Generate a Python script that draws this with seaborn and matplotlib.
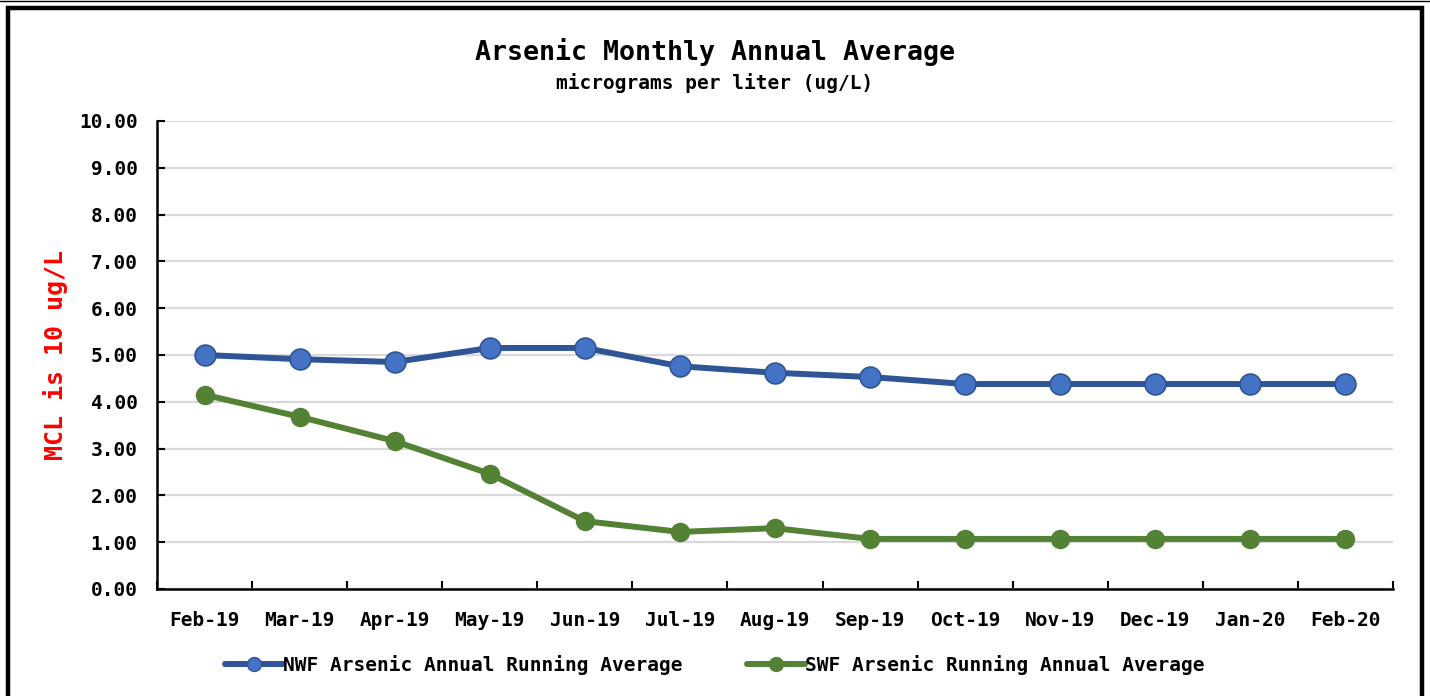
import matplotlib
matplotlib.use("Agg")
import matplotlib.pyplot as plt
import matplotlib.patches as mpatches
from matplotlib.lines import Line2D
import seaborn as sns
import pandas as pd
import numpy as np

months = ["Feb-19", "Mar-19", "Apr-19", "May-19", "Jun-19", "Jul-19", "Aug-19",
          "Sep-19", "Oct-19", "Nov-19", "Dec-19", "Jan-20", "Feb-20"]
nwf = [5.00, 4.91, 4.85, 5.15, 5.15, 4.76, 4.62, 4.53, 4.38, 4.38, 4.38, 4.38, 4.38]
swf = [4.15, 3.68, 3.16, 2.46, 1.45, 1.22, 1.30, 1.07, 1.07, 1.07, 1.07, 1.07, 1.07]
nwf_label = "NWF Arsenic Annual Running Average"
swf_label = "SWF Arsenic Running Annual Average"
yticks = [0, 1, 2, 3, 4, 5, 6, 7, 8, 9, 10]

sns.set_style("white")
plt.rcParams['font.family'] = ['DejaVu Sans Mono', 'DejaVu Sans']
plt.rcParams['font.weight'] = 'bold'
plt.rcParams['text.color'] = 'black'
plt.rcParams['xtick.color'] = 'black'
plt.rcParams['ytick.color'] = 'black'
plt.rcParams['axes.labelcolor'] = 'black'

fig = plt.figure(figsize=(14.3, 6.96), dpi=100)
ax = fig.add_axes([157/1430, 1-589/696, (1393-157)/1430, (589-121)/696])

idx = np.arange(len(months))
df_n = pd.DataFrame({"x": idx, "y": nwf})
df_s = pd.DataFrame({"x": idx, "y": swf})

blue_line = "#2F5597"
blue_face = "#4472C4"
green = "#548235"

sns.lineplot(data=df_n, x="x", y="y", ax=ax, color=blue_line, linewidth=4.3,
             marker="o", markersize=15, markerfacecolor=blue_face,
             markeredgecolor=blue_line, markeredgewidth=1.2, zorder=3, sort=False)
sns.lineplot(data=df_s, x="x", y="y", ax=ax, color=green, linewidth=4.3,
             marker="o", markersize=13, markerfacecolor=green,
             markeredgecolor=green, markeredgewidth=1.0, zorder=3, sort=False)

ax.set_xlim(-0.5, len(months) - 0.5)
ax.set_ylim(0, 10)
ax.set_yticks(yticks)
ax.set_yticklabels([f"{v:.2f}" for v in yticks], fontsize=14, fontweight='bold')
ax.set_xticks(idx)
ax.set_xticklabels(months, fontsize=14, fontweight='bold')
ax.set_xticks(np.arange(-0.5, len(months) + 0.5, 1), minor=True)
ax.tick_params(axis='x', which='major', bottom=True, length=0, pad=16)
ax.tick_params(axis='x', which='minor', bottom=True, direction='in', length=6, width=1.5, color='black')
ax.tick_params(axis='y', which='major', left=True, direction='in', length=6, width=1.5, color='black', pad=14)
ax.grid(axis='y', color='#d9d9d9', linewidth=1.6, zorder=0)
ax.set_axisbelow(True)
ax.set_xlabel("")
ax.set_ylabel("MCL is 10 ug/L", color='#ff0000', fontsize=18, fontweight='bold', labelpad=8)
for s in ['top', 'right']:
    ax.spines[s].set_visible(False)
for s in ['left', 'bottom']:
    ax.spines[s].set_color('black')
    ax.spines[s].set_linewidth(1.8)

fig.text(0.5, 1-52/696, "Arsenic Monthly Annual Average", ha='center', va='center',
         fontsize=19.2, fontweight='bold', color='black')
fig.text(0.5, 1-83/696, "micrograms per liter (ug/L)", ha='center', va='center',
         fontsize=14, fontweight='bold', color='black')

handles = [
    Line2D([0], [0], color=blue_line, linewidth=4.3, marker='o', markersize=10,
           markerfacecolor=blue_face, markeredgecolor=blue_line),
    Line2D([0], [0], color=green, linewidth=4.3, marker='o', markersize=10,
           markerfacecolor=green, markeredgecolor=green),
]
fig.legend(handles, [nwf_label, swf_label], loc='center', bbox_to_anchor=(0.5, 1-665/696),
           ncol=2, frameon=False, prop={'size': 14, 'weight': 'bold'},
           handlelength=3.0, handletextpad=0.0, columnspacing=3.3, numpoints=1)

fig.add_artist(mpatches.Rectangle((8/1430, -0.02), (1422-8)/1430, 1.02-8/696,
                                  transform=fig.transFigure, fill=False,
                                  edgecolor='black', linewidth=3.2))
fig.add_artist(Line2D([0, 1], [1-1/696, 1-1/696], transform=fig.transFigure,
                      color='black', linewidth=1.0))

fig.savefig("out.png", dpi=100, facecolor='white')
